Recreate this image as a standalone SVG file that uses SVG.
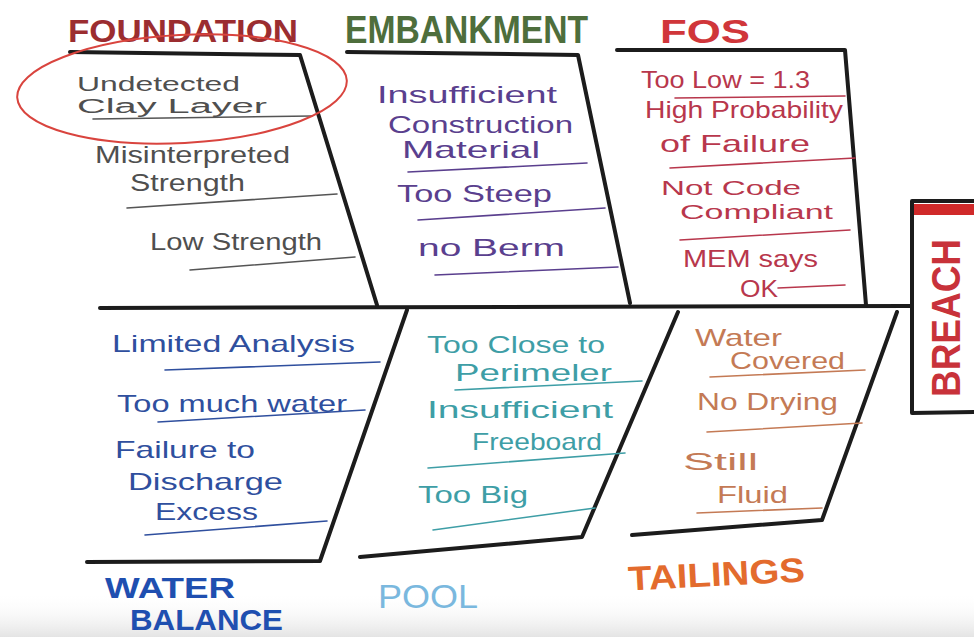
<svg xmlns="http://www.w3.org/2000/svg" width="974" height="637" viewBox="0 0 974 637">
<defs>
<linearGradient id="fade" x1="0" y1="0" x2="0" y2="1">
<stop offset="0" stop-color="#ffffff" stop-opacity="0"/>
<stop offset="1" stop-color="#e4e4e4" stop-opacity="1"/>
</linearGradient>
<style>
.bone{fill:none;stroke:#1c1c1c;stroke-width:4;stroke-linecap:round;stroke-linejoin:round}
.ul{fill:none;stroke-width:1.6;stroke-linecap:round}
.t{font-family:"Liberation Sans","DejaVu Sans",sans-serif;font-size:24px}
.s{font-size:20px}
.h{font-family:"Liberation Sans","DejaVu Sans",sans-serif;font-weight:bold}
.gray{fill:#4f4f4f}.grayl{stroke:#555}
.pur{fill:#5a3f8e}.purl{stroke:#5a3f8e}
.crim{fill:#b8374c}.criml{stroke:#b8374c}
.blue{fill:#2f4f9e}.bluel{stroke:#2f4f9e}
.teal{fill:#3e9ea6}.teall{stroke:#3e9ea6}
.org{fill:#c47a55}.orgl{stroke:#c47a55}
</style>
</defs>
<rect width="974" height="637" fill="#ffffff"/>
<rect x="0" y="592" width="974" height="45" fill="url(#fade)"/>

<g id="connectors">
<path class="bone" d="M100 308 L912 306"/>
</g>

<g id="foundation">
<text class="h" x="68" y="42" font-size="32" fill="#9b2d30" textLength="230" lengthAdjust="spacingAndGlyphs">FOUNDATION</text>
<path class="bone" d="M70 52 L300 55 L377 305"/>
<text class="t s gray" x="77" y="91" textLength="163" lengthAdjust="spacingAndGlyphs">Undetected</text>
<text class="t s gray" x="77" y="113" textLength="190" lengthAdjust="spacingAndGlyphs">Clay Layer</text>
<path class="ul grayl" d="M93 119 L312 116"/>
<text class="t gray" x="95" y="163" textLength="195" lengthAdjust="spacingAndGlyphs">Misinterpreted</text>
<text class="t gray" x="130" y="191" textLength="115" lengthAdjust="spacingAndGlyphs">Strength</text>
<path class="ul grayl" d="M127 208 L337 194"/>
<text class="t gray" x="150" y="250" textLength="172" lengthAdjust="spacingAndGlyphs">Low Strength</text>
<path class="ul grayl" d="M190 270 L355 257"/>
<ellipse cx="182" cy="89" rx="165" ry="54" transform="rotate(-3 182 89)" fill="none" stroke="#d9443e" stroke-width="2"/>
</g>

<g id="embankment">
<text class="h" x="345" y="43" font-size="38" fill="#4e6e3c" textLength="243" lengthAdjust="spacingAndGlyphs">EMBANKMENT</text>
<path class="bone" d="M347 52 L578 55 L630 303"/>
<text class="t pur" x="377" y="103" textLength="180" lengthAdjust="spacingAndGlyphs">Insufficient</text>
<text class="t pur" x="388" y="133" textLength="185" lengthAdjust="spacingAndGlyphs">Construction</text>
<text class="t pur" x="402" y="158" textLength="138" lengthAdjust="spacingAndGlyphs">Material</text>
<path class="ul purl" d="M408 172 L587 163"/>
<text class="t pur" x="397" y="202" textLength="155" lengthAdjust="spacingAndGlyphs">Too Steep</text>
<path class="ul purl" d="M418 220 L605 208"/>
<text class="t pur" x="418" y="256" textLength="147" lengthAdjust="spacingAndGlyphs">no Berm</text>
<path class="ul purl" d="M435 275 L618 267"/>
</g>

<g id="fos">
<text class="h" x="660" y="43" font-size="34" fill="#d0363a" textLength="90" lengthAdjust="spacingAndGlyphs">FOS</text>
<path class="bone" d="M617 50 L845 50 L866 305"/>
<text class="t crim" x="641" y="88" textLength="169" lengthAdjust="spacingAndGlyphs">Too Low = 1.3</text>
<path class="ul criml" d="M675 98 L845 96"/>
<text class="t crim" x="645" y="118" textLength="198" lengthAdjust="spacingAndGlyphs">High Probability</text>
<text class="t crim" x="660" y="152" textLength="150" lengthAdjust="spacingAndGlyphs">of Failure</text>
<path class="ul criml" d="M670 168 L855 158"/>
<text class="t s crim" x="661" y="195" textLength="140" lengthAdjust="spacingAndGlyphs">Not Code</text>
<text class="t s crim" x="680" y="219" textLength="153" lengthAdjust="spacingAndGlyphs">Compliant</text>
<path class="ul criml" d="M680 240 L850 230"/>
<text class="t crim" x="683" y="267" textLength="135" lengthAdjust="spacingAndGlyphs">MEM says</text>
<text class="t crim" x="740" y="297" textLength="38" lengthAdjust="spacingAndGlyphs">OK</text>
<path class="ul criml" d="M778 288 L845 285"/>
</g>

<g id="water-balance">
<path class="bone" d="M407 310 L320 561 L87 562"/>
<text class="t blue" x="112" y="352" textLength="243" lengthAdjust="spacingAndGlyphs">Limited Analysis</text>
<path class="ul bluel" d="M165 370 L380 362"/>
<text class="t blue" x="117" y="412" textLength="230" lengthAdjust="spacingAndGlyphs">Too much water</text>
<path class="ul bluel" d="M158 422 L365 410"/>
<text class="t blue" x="115" y="458" textLength="140" lengthAdjust="spacingAndGlyphs">Failure to</text>
<text class="t blue" x="128" y="490" textLength="155" lengthAdjust="spacingAndGlyphs">Discharge</text>
<text class="t blue" x="155" y="520" textLength="103" lengthAdjust="spacingAndGlyphs">Excess</text>
<path class="ul bluel" d="M145 535 L327 521"/>
<text class="h" x="105" y="598" font-size="30" fill="#1f4fb0" textLength="130" lengthAdjust="spacingAndGlyphs">WATER</text>
<text class="h" x="130" y="630" font-size="30" fill="#1f4fb0" textLength="153" lengthAdjust="spacingAndGlyphs">BALANCE</text>
</g>

<g id="pool">
<path class="bone" d="M678 312 L582 537 L360 557"/>
<text class="t teal" x="427" y="353" textLength="178" lengthAdjust="spacingAndGlyphs">Too Close to</text>
<text class="t teal" x="455" y="381" textLength="157" lengthAdjust="spacingAndGlyphs">Perimeler</text>
<path class="ul teall" d="M455 390 L642 381"/>
<text class="t teal" x="427" y="418" textLength="186" lengthAdjust="spacingAndGlyphs">Insufficient</text>
<text class="t teal" x="472" y="450" textLength="130" lengthAdjust="spacingAndGlyphs">Freeboard</text>
<path class="ul teall" d="M428 468 L625 453"/>
<text class="t teal" x="418" y="503" textLength="110" lengthAdjust="spacingAndGlyphs">Too Big</text>
<path class="ul teall" d="M433 530 L595 508"/>
<text x="378" y="608" font-family="Liberation Sans, DejaVu Sans, sans-serif" font-size="34" fill="#7ab8de" textLength="100" lengthAdjust="spacingAndGlyphs">POOL</text>
</g>

<g id="tailings">
<path class="bone" d="M897 312 L822 520 L632 535"/>
<text class="t org" x="695" y="346" font-size="18" textLength="87" lengthAdjust="spacingAndGlyphs">Water</text>
<text class="t org" x="730" y="369" font-size="18" textLength="115" lengthAdjust="spacingAndGlyphs">Covered</text>
<path class="ul orgl" d="M710 377 L865 370"/>
<text class="t org" x="697" y="410" textLength="141" lengthAdjust="spacingAndGlyphs">No Drying</text>
<path class="ul orgl" d="M707 432 L862 423"/>
<text class="t org" x="683" y="470" textLength="75" lengthAdjust="spacingAndGlyphs">Still</text>
<text class="t org" x="717" y="503" textLength="71" lengthAdjust="spacingAndGlyphs">Fluid</text>
<path class="ul orgl" d="M697 513 L822 508"/>
<text class="h" x="628" y="586" font-size="34" fill="#e36b2d" textLength="177" lengthAdjust="spacingAndGlyphs" transform="rotate(-3 716 574)">TAILINGS</text>
</g>

<g id="breach">
<rect x="912" y="204" width="62" height="11" fill="#d02a2a"/>
<path class="bone" d="M974 201 L912 201 L912 413 L974 412"/>
<text class="h" x="0" y="0" font-size="40" fill="#c8323a" textLength="158" lengthAdjust="spacingAndGlyphs" transform="translate(960 397) rotate(-90)">BREACH</text>
</g>
</svg>
